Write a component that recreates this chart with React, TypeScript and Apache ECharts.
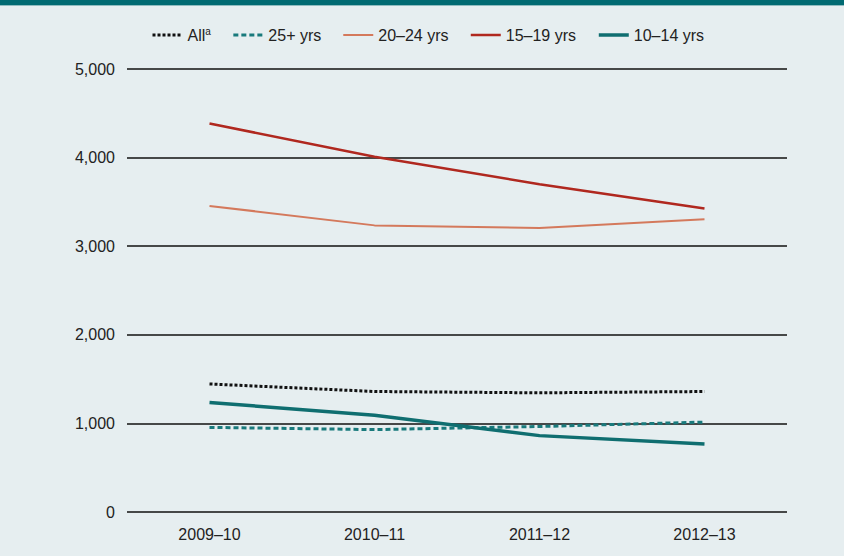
import React, { useEffect, useRef } from "react";
import * as echarts from "echarts";

const years = ["2009–10", "2010–11", "2011–12", "2012–13"];
const allAges = [1445, 1360, 1345, 1360];
const age25plus = [955, 930, 965, 1015];
const age20to24 = [3455, 3235, 3205, 3305];
const age15to19 = [4385, 4010, 3700, 3425];
const age10to14 = [1236, 1092, 862, 768];
const yTicks = [0, 1000, 2000, 3000, 4000, 5000];

const FONT = "'Liberation Sans', Arial, sans-serif";

export default function App() {
  const ref = useRef<HTMLDivElement>(null);

  useEffect(() => {
    if (!ref.current) return;
    const chart = echarts.init(ref.current, null, { renderer: "svg" });
    const line = (name: string, data: number[], color: string, width: number, type: any, z: number) => ({
      name,
      type: "line",
      data,
      symbol: "none",
      z,
      lineStyle: { color, width, type, cap: "butt" },
      itemStyle: { color },
    });
    chart.setOption({
      animation: false,
      backgroundColor: "#e6eef0",
      textStyle: { fontFamily: FONT },
      graphic: [
        { type: "rect", shape: { x: 0, y: 0, width: 844, height: 5 }, style: { fill: "#006a72" } },
        { type: "rect", shape: { x: 0, y: 5, width: 844, height: 1 }, style: { fill: "#8fbcc0" } },
      ],
      legend: {
        top: 21,
        left: 146,
        itemWidth: 30,
        itemHeight: 12,
        itemGap: 21,
        itemStyle: { opacity: 0 },
        lineStyle: { width: "inherit" },
        textStyle: {
          fontFamily: FONT,
          fontSize: 16,
          lineHeight: 18,
          color: "#222",
          rich: { sup: { fontSize: 10, lineHeight: 18, verticalAlign: "top", fontFamily: FONT, color: "#222" } },
        },
        formatter: (n: string) => (n === "All" ? "All{sup|a}" : n),
        data: ["All", "25+ yrs", "20–24 yrs", "15–19 yrs", "10–14 yrs"],
      },
      grid: { left: 127, right: 57, top: 69, bottom: 44 },
      xAxis: {
        type: "category",
        data: years,
        boundaryGap: true,
        axisLine: { show: false },
        axisTick: { show: false },
        axisLabel: { color: "#222", fontSize: 16, fontFamily: FONT, margin: 14 },
      },
      yAxis: {
        type: "value",
        min: yTicks[0],
        max: yTicks[yTicks.length - 1],
        interval: 1000,
        axisLine: { show: false },
        axisTick: { show: false },
        axisLabel: {
          color: "#222",
          fontSize: 16,
          fontFamily: FONT,
          margin: 12,
          formatter: (v: number) => v.toLocaleString("en-US"),
        },
        splitLine: { lineStyle: { color: "#111", width: 1.5 } },
      },
      series: [
        line("All", allAges, "#111111", 3, [3, 2], 5),
        line("25+ yrs", age25plus, "#197a7c", 3, [5, 3], 4),
        line("20–24 yrs", age20to24, "#d4795c", 2, "solid", 3),
        line("15–19 yrs", age15to19, "#b0281f", 2.5, "solid", 3),
        line("10–14 yrs", age10to14, "#0f6e70", 3.5, "solid", 6),
      ],
    });
    return () => chart.dispose();
  }, []);

  return (
    <div
      ref={ref}
      style={{ position: "fixed", left: 0, top: 0, width: 844, height: 556 }}
    />
  );
}
